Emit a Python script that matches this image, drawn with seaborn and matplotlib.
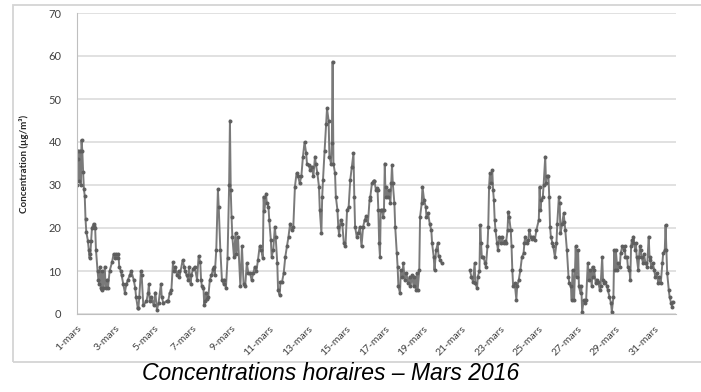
import numpy as np
import pandas as pd
import matplotlib
matplotlib.use("Agg")
import matplotlib.pyplot as plt
from matplotlib.patches import Rectangle
import seaborn as sns

# ---- Data: hour index since 1 March 2016 00:00 and concentration (µg/m³) ----
hours_01_04 = [0,1,2,3,4,5,6,7,8,9,10,11,12,14,15,16,17,18,19,21,22,23,24,26,27,28,29,30,31,32,
               33,35,36,38,39,41,44,46,48,49,51,52,53,55,56,58,60,62,64,66,68,71,73,74,76,77,78,80,81]
conc_01_04 = [30,36,38,31,38,30,40.5,38,33,29,27.5,22,19,17,15,13,14,17,20,21,20.5,20,15,10,8,7,11,6,5.5,10,
              6,11,6,8,6,10,12,14,13,14,13,14,11,10,9,7,5,7,8,9,10,8,6,4,1.5,1.5,4,10,9]

hours_04_09 = [83,87,89,90,91,93,96,98,100,102,105,106,108,112,114,116,118,120,121,123,125,127,128,132,134,
               135,137,139,140,142,143,145,147,150,152,154,155,156,158,159,160,161,163,164,166,168,170,171,172,
               174,176,177,179,181,183,184,186,188,190,191,
               192,193,194,196,198,199,201,204,206,208,210,212,214]
conc_04_09 = [2,3,5,7,3,4,2,5,1,2.5,7,4,2.5,3,3,5,5.5,12,10,11,9,10,8.5,12.5,11,
              10,9,8,11,7,9,10.5,11,8,13.5,12,8,6.5,6,2,3,5,3.5,4,8,9,10.5,11,9,
              15,29,25,15,8,7,8,6,13,30,45,
              28.8,22.6,18,13.3,18.8,14,18,6.4,15.7,7,6.4,11.8,9.5]

hours_10_15 = [216,218,220,222,224,226,228,230,232,233,234,236,237,239,240,242,243,245,247,248,
               250,251,253,254,256,258,260,262,264,266,268,270,272,274,276,278,280,282,284,286,
               287,289,291,293,295,297,298,300,302,303,305,306,307,309,311,312,314,315,317,318,
               319,320,322,323,325,326,327,329,331,333,335,337,339,341,343,345,346,347,349,351]
conc_10_15 = [9.5,7.9,9.5,11,10,12.6,15.7,14.9,13,27.3,24,28,25.7,25,21.9,17.2,13.3,14.9,20.3,18,
              11.8,5.6,4.4,7.5,7.5,9.5,13.3,15.7,18,21,19.5,20.3,29.6,32.7,32,30.4,32,36.6,40,37.4,
              35,34.7,33.5,34.3,32,36.6,35,32.7,29.6,24.2,18.8,27.3,31.2,38,44.3,47.8,45,36.6,35,39.7,
              58.7,35,32.7,27.3,24.2,20.3,18.4,21.9,21,16.4,15.7,24.2,25,31.2,34.3,37.4,27.3,20.3,18,18.8]

hours_15_19 = [353,355,357,359,361,363,365,366,368,370,371,373,374,375,376,377,378,379,381,382,
               383,384,385,386,388,389,391,392,393,394,396,397,399,400,401,403,404,406,407,409,
               411,413,415,416,418,420,421,423,424,425,427,428,430,431,433,435,436,438,440,442,
               443,445,446,448,450,451,453,455]
conc_15_19 = [20.3,15.7,20.3,21.9,22.8,21,26.5,27.3,30.4,31,31,28.8,29.2,28.8,24.2,16.4,13.3,24.2,24.2,22.6,
              24.2,35,27.3,29.6,27.3,28.8,25.7,30.4,34.7,30.4,25.7,20.3,14.1,11,6.4,4.8,10.2,8.7,11.8,7.9,
              9.5,7.1,8.7,6.4,9,6.4,8.7,5.6,9.5,5.6,10.2,22.6,25.7,29.6,26.5,25,22.6,23.4,21,19.5,
              16.4,13.3,10.2,14.9,16.4,13.5,12.6,11.8]

hours_21_27 = [490,492,494,496,497,499,500,502,503,504,505,507,509,510,512,513,514,515,516,518,
               519,520,521,522,524,525,527,529,530,532,534,535,537,538,539,541,542,543,544,546,
               548,549,551,553,555,557,558,559,561,563,564,566,568,569,571,573,576,577,578,579,
               581,582,584,585,586,588,589,590,591,593,594,596,598,599,601,602,603,605,607,608,
               609,611,613,614,616,617,618,620,622,623,625,626,628,629,630,632,633,635]
conc_21_27 = [10.2,8.7,7.5,11.8,7.1,6,8.7,10,20.7,16.4,13.3,13.3,11.8,11,15.7,20.3,29.6,32.7,30.4,33.5,
              28.8,26.5,21.9,19.5,16.4,14.9,18,16.4,18,16.4,17,16.4,19.5,23.8,22.6,19.5,15.7,10.2,6.4,7.1,
              3.3,6.4,7.9,10.2,13.3,14.1,16.4,18,16.4,17.2,19.5,18,17.5,18,17.2,19.5,21.9,29.6,24.2,26.5,
              27.3,30,36.6,30.4,32,32,27.3,20.3,18,16.4,15.7,13.3,16.4,21,27.3,25.7,18.8,21,23.4,21.5,
              19.5,14.9,8.7,7.1,6.4,3.3,10.2,3.3,15.7,8.7,14.9,6.4,4.8,6.4,0.5,3.3,2.5,3.3]

hours_27_31 = [637,639,640,642,643,644,645,647,648,650,652,653,655,656,657,659,661,662,664,666,
               667,669,670,671,672,674,675,677,678,680,682,683,684,686,687,689,690,691,692,693,
               694,696,697,698,700,701,702,703,704,706,707,709,711,713,714,715,716,718,720,721,
               723,725,726,728,730,731,733,734,735,736,738,739,741,742,743]
conc_27_31 = [11.8,7.9,10.2,6.4,11,8.7,10.2,7.1,8,7.5,5.6,6.4,13.3,8,7.1,7.5,6.4,5.6,4,2.5,
              0.5,4,14.9,10.2,14.9,10.2,11.8,11,14.1,15.7,14.9,15.7,13.3,13.3,11,10.2,7.9,15.7,17.2,16.5,
              18,14.9,16.5,13.3,10.2,13.3,15.7,15,13.3,11.8,14,11.8,11,18,13.3,12.6,11,11.8,10.2,8.7,
              9.5,7.1,8.7,7.1,11.8,14.1,14.9,20.7,14.9,9.5,5.6,4,2.5,1.7,2.9]

tick_hours = [0, 48, 96, 144, 192, 240, 288, 336, 384, 432, 480, 528, 576, 624, 672, 720]
tick_labels = ["1-mars", "3-mars", "5-mars", "7-mars", "9-mars", "11-mars", "13-mars", "15-mars",
               "17-mars", "19-mars", "21-mars", "23-mars", "25-mars", "27-mars", "29-mars", "31-mars"]

# Build table: data before the gap (1-19 mars) and after (21-31 mars) are separate line units
seg1_h = hours_01_04 + hours_04_09 + hours_10_15 + hours_15_19
seg1_v = conc_01_04 + conc_04_09 + conc_10_15 + conc_15_19
seg2_h = hours_21_27 + hours_27_31
seg2_v = conc_21_27 + conc_27_31
df = pd.DataFrame({
    "hour": seg1_h + seg2_h,
    "conc": seg1_v + seg2_v,
    "segment": [0] * len(seg1_h) + [1] * len(seg2_h),
})

sns.set_style("white")
plt.rcParams["font.family"] = ["Lato", "DejaVu Sans"]

fig = plt.figure(figsize=(7.01, 3.92), dpi=100)
ax = fig.add_axes([76.7 / 701, 1 - 314 / 392, (676 - 76.7) / 701, (314 - 13) / 392])

sns.lineplot(data=df, x="hour", y="conc", units="segment", estimator=None, ax=ax,
             color="#7a7a7a", linewidth=1.4, marker="o", markersize=2.1,
             markeredgecolor="#5e5e5e", markerfacecolor="#5e5e5e", legend=False)

ax.set_xlim(0, 747)
ax.set_ylim(0, 70)
ax.set_yticks(range(0, 71, 10))
ax.yaxis.grid(True, color="#d9d9d9", linewidth=1.1)
ax.xaxis.grid(False)
ax.set_axisbelow(True)

ax.set_xticks(tick_hours)
ax.set_xticklabels(tick_labels, rotation=45, ha="right", va="top", rotation_mode="anchor",
                   fontsize=7.5, color="#404040")
ax.tick_params(axis="x", direction="out", length=4, width=0.8, color="#bfbfbf", pad=3)
ax.tick_params(axis="y", length=0, labelsize=8, labelcolor="#404040", pad=11)

for side in ["top", "right"]:
    ax.spines[side].set_visible(False)
ax.spines["left"].set_color("#bfbfbf")
ax.spines["left"].set_linewidth(0.8)
ax.spines["bottom"].set_color("#bfbfbf")
ax.spines["bottom"].set_linewidth(0.8)

ax.set_xlabel("")
ax.set_ylabel("Concentration (µg/m³)", fontsize=7, fontweight="bold", color="#262626", labelpad=14)

# chart frame (Excel chart area)
fig.patches.append(Rectangle((13 / 701, 1 - 362 / 392), 1.0, (362 - 5) / 392,
                             transform=fig.transFigure, fill=False,
                             edgecolor="#d4d4d4", linewidth=1.3))

fig.text(331 / 701, 1 - 374 / 392, "Concentrations horaires \u2013 Mars 2016",
         ha="center", va="center", fontsize=16.5, style="italic",
         family=["Liberation Sans", "DejaVu Sans"], color="#000000")

fig.savefig("out.png", dpi=100)
